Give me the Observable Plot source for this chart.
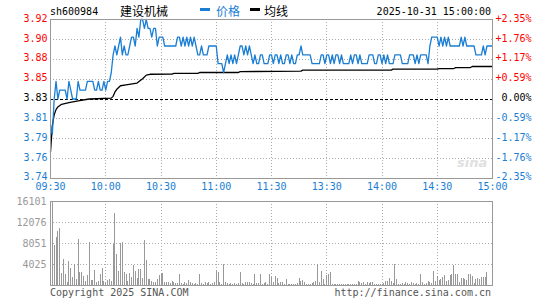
<!DOCTYPE html>
<html><head><meta charset="utf-8">
<script src="https://cdn.jsdelivr.net/npm/d3@7"></script>
<script src="https://cdn.jsdelivr.net/npm/@observablehq/plot@0.6"></script>
<style>
body{margin:0;background:#fff;}
#wrap{position:relative;width:545px;height:300px;overflow:hidden;background:#fff;}
#wrap svg{position:absolute;left:0;}
</style></head><body><div id="wrap"></div>
<script>
// ---- data ----
const stockCode = "sh600984";
const stockName = "建设机械";
const legendPrice = "价格";
const legendAvg = "均线";
const stamp = "2025-10-31 15:00:00";
const prevClose = 3.83;
const pctTicks = [-2.35, -1.7625, -1.175, -0.5875, 0, 0.5875, 1.175, 1.7625, 2.35];
const priceLabels = ["3.74","3.76","3.79","3.81","3.83","3.85","3.88","3.90","3.92"];
const pctLabels = ["-2.35%","-1.76%","-1.17%","-0.59%","0.00%","+0.59%","+1.17%","+1.76%","+2.35%"];
const timeTicks = [0, 30, 60, 90, 120, 150, 180, 210, 240];
const timeLabels = ["09:30","10:00","10:30","11:00","11:30","13:30","14:00","14:30","15:00"];
const volTicks = [4025, 8051, 12076, 16101];
const volMax = 16101;

const price = [
3.80,3.79,3.83,3.85,3.83,3.84,3.84,3.84,3.84,3.83,
3.85,3.84,3.83,3.83,3.83,3.85,3.84,3.84,3.84,3.84,
3.85,3.85,3.85,3.85,3.84,3.84,3.85,3.84,3.84,3.85,
3.84,3.85,3.85,3.86,3.88,3.89,3.88,3.89,3.90,3.88,
3.89,3.88,3.88,3.89,3.90,3.90,3.89,3.91,3.90,3.92,
3.92,3.91,3.92,3.91,3.91,3.90,3.91,3.91,3.89,3.90,
3.90,3.90,3.89,3.89,3.89,3.89,3.89,3.89,3.89,3.90,
3.90,3.89,3.90,3.89,3.90,3.89,3.90,3.89,3.90,3.89,
3.88,3.88,3.89,3.88,3.88,3.88,3.89,3.89,3.89,3.89,
3.89,3.87,3.87,3.87,3.86,3.87,3.88,3.87,3.88,3.87,
3.88,3.87,3.88,3.89,3.89,3.88,3.89,3.88,3.89,3.88,
3.87,3.88,3.87,3.87,3.88,3.88,3.87,3.87,3.87,3.88,
3.88,3.87,3.88,3.88,3.87,3.88,3.87,3.87,3.88,3.88,
3.87,3.88,3.87,3.87,3.88,3.88,3.89,3.88,3.88,3.88,
3.88,3.88,3.87,3.87,3.87,3.87,3.87,3.88,3.88,3.87,
3.88,3.88,3.87,3.88,3.87,3.88,3.88,3.87,3.88,3.87,
3.87,3.87,3.87,3.88,3.87,3.88,3.88,3.87,3.88,3.87,
3.87,3.87,3.87,3.88,3.88,3.88,3.87,3.87,3.88,3.88,
3.87,3.88,3.87,3.88,3.87,3.87,3.87,3.88,3.88,3.88,
3.88,3.87,3.87,3.87,3.87,3.88,3.88,3.88,3.87,3.88,
3.87,3.88,3.88,3.88,3.88,3.87,3.89,3.90,3.90,3.90,
3.90,3.89,3.90,3.89,3.90,3.89,3.90,3.89,3.89,3.89,
3.89,3.89,3.89,3.90,3.89,3.90,3.89,3.89,3.89,3.89,
3.89,3.88,3.88,3.88,3.88,3.89,3.88,3.89,3.89,3.89,3.89
];

// average line, read at its breakpoints (minute index, value)
const avgMinute = [0,1,2,3,4,6,10,15,21,33,34,35,36,38,41,47,50,52,54,66,67,80,81,102,103,136,137,185,186,210,211,219,220,228,229,240];
const avgValue  = [3.770,3.800,3.812,3.818,3.821,3.824,3.826,3.828,3.830,3.831,3.833,3.838,3.841,3.845,3.846,3.848,3.853,3.857,3.858,3.8582,3.859,3.859,3.860,3.860,3.861,3.8615,3.8627,3.8627,3.8638,3.8638,3.8645,3.8645,3.8656,3.8656,3.8668,3.8668];

const volume = [
7150,16101,7668,9267,10352,10990,2236,4984,2045,639,
4601,3200,1600,3962,1150,8818,2556,2556,1790,767,
1917,8179,959,959,2876,639,767,2045,3195,767,
639,959,1150,767,7796,13884,5878,2684,7988,8179,
2428,2045,767,2236,1500,3834,2684,1406,3067,3067,
1406,8562,4792,1150,1150,767,511,639,1150,1917,
2045,2236,639,511,639,320,767,511,400,320,
2173,320,256,639,400,959,511,320,256,384,
256,2173,320,256,511,384,639,256,320,511,
2684,2400,639,256,3962,511,320,256,384,256,
320,256,384,2428,320,256,639,639,639,384,
256,2045,320,384,2045,256,320,511,256,2173,
1598,639,1790,1278,320,511,511,256,1150,256,
192,256,192,256,320,1278,767,959,511,256,
192,256,320,511,767,3962,639,2684,1150,256,
1917,2045,2556,192,256,128,192,256,128,192,
256,128,192,256,192,128,256,767,511,320,
511,256,511,320,639,511,256,192,128,256,
192,320,767,767,1278,767,320,3962,1150,256,
192,320,256,511,384,256,511,320,256,384,
256,2173,639,256,384,767,511,320,2684,767,
1790,959,1150,1598,1917,767,959,1917,2045,3834,
2045,2045,639,1278,1406,1150,895,2173,2045,1790,
320,1150,1278,1150,1534,1534,1534,2428,0,0,0
];

// ---- styles ----
const blue = "#1a7ed4";
const red = "#ff0000";
const gridC = "#aaaaaa";
const mono = "DejaVu Sans Mono";
const cjk = "Noto Sans CJK SC";

const priceRows = price.map((p, i) => ({i, p}));
const avgRows = avgMinute.map((m, k) => ({i: m, p: avgValue[k]}));
const volRows = volume.map((v, i) => ({i, v}));
const yTicks = pctTicks.map((p, k) => ({y: prevClose * (1 + p / 100), label: priceLabels[k], pct: pctLabels[k], k}));
const yLo = prevClose * (1 - 0.0235), yHi = prevClose * (1 + 0.0235);
const innerTimes = timeTicks.slice(1, -1);

const labelColor = k => k < 4 ? blue : (k === 4 ? "#000" : red);
const groups = [[0], [1,2,3], [4], [5,6,7,8]];
const groupDy = g => g[0] === 0 ? -2 : -1;

const pricePlot = Plot.plot({
  width: 545, height: 195,
  marginTop: 19, marginBottom: 17, marginLeft: 50, marginRight: 53,
  x: {domain: [0, 240], axis: null},
  y: {domain: [yLo, yHi], axis: null},
  style: {fontFamily: mono, fontSize: "10px", background: "transparent", overflow: "visible"},
  marks: [
    Plot.ruleY(yTicks.filter(d => d.k !== 4 && d.k !== 0 && d.k !== 8), {y: "y", stroke: gridC, strokeDasharray: "1,2", shapeRendering: "crispEdges"}),
    Plot.ruleX(innerTimes, {stroke: gridC, strokeDasharray: "1,2", shapeRendering: "crispEdges"}),
    Plot.ruleY([prevClose], {stroke: "#000", strokeDasharray: "3,2", shapeRendering: "crispEdges"}),
    Plot.line(avgRows, {x: "i", y: "p", stroke: "#000", strokeWidth: 1.3}),
    Plot.line(priceRows, {x: "i", y: "p", stroke: blue, strokeWidth: 1.3}),
    Plot.frame({stroke: "#999", shapeRendering: "crispEdges"}),
    ...groups.map(group => Plot.text(yTicks.filter(d => group.includes(d.k)), {
      y: "y", text: "label", frameAnchor: "left", dx: -3, dy: groupDy(group), textAnchor: "end",
      fill: labelColor(group[0]), fontFamily: mono, fontSize: 10})),
    ...groups.map(group => Plot.text(yTicks.filter(d => group.includes(d.k)), {
      y: "y", text: "pct", frameAnchor: "right", dx: 39, dy: groupDy(group), textAnchor: "end",
      fill: labelColor(group[0]), fontFamily: mono, fontSize: 10})),
    Plot.text(timeTicks, {x: d => d, text: (d, k) => timeLabels[k], frameAnchor: "bottom", dy: 11,
      fill: blue, fontFamily: mono, fontSize: 10})
  ]
});
pricePlot.style.top = "0px";

const volPlot = Plot.plot({
  width: 545, height: 105,
  marginTop: 6, marginBottom: 15, marginLeft: 50, marginRight: 53,
  x: {domain: [0, 240], axis: null},
  y: {domain: [0, volMax], axis: null},
  style: {fontFamily: mono, fontSize: "10px", background: "transparent", overflow: "visible"},
  marks: [
    Plot.ruleY(volTicks.slice(0, -1), {stroke: gridC, strokeDasharray: "1,2", shapeRendering: "crispEdges"}),
    Plot.ruleX(innerTimes, {stroke: gridC, strokeDasharray: "1,2", shapeRendering: "crispEdges"}),
    Plot.ruleX(volRows.filter(d => d.v > 0), {x: "i", y1: 0, y2: "v", stroke: "#999", strokeWidth: 1, shapeRendering: "crispEdges"}),
    Plot.frame({stroke: "#999", shapeRendering: "crispEdges"}),
    Plot.text(volTicks, {y: d => d, text: d => String(d), frameAnchor: "left", dx: -4, textAnchor: "end",
      fill: "#999", fontFamily: mono, fontSize: 10})
  ]
});
volPlot.style.top = "195px";

const wrap = document.getElementById("wrap");
wrap.appendChild(pricePlot);
wrap.appendChild(volPlot);

// header, legend, footer and watermark as real text
const svg = d3.select(wrap).append("svg")
  .attr("width", 545).attr("height", 300).style("top", "0px").style("pointer-events", "none");
svg.append("text").attr("x", 457).attr("y", 167).attr("font-family", "DejaVu Sans").attr("font-style", "italic")
  .attr("font-weight", "bold").attr("font-size", 13).attr("fill", "#e0e0e0").text("sina");
svg.append("text").attr("x", 50).attr("y", 15).attr("font-family", mono).attr("font-size", 10).attr("fill", "#000").text(stockCode);
svg.append("text").attr("x", 120).attr("y", 15.5).attr("font-family", cjk).attr("font-size", 12).attr("fill", "#000").text(stockName);
svg.append("rect").attr("x", 200).attr("y", 8).attr("width", 10).attr("height", 3).attr("fill", blue);
svg.append("text").attr("x", 216).attr("y", 15.5).attr("font-family", cjk).attr("font-size", 12).attr("fill", blue).text(legendPrice);
svg.append("rect").attr("x", 250).attr("y", 8).attr("width", 10).attr("height", 3).attr("fill", "#000");
svg.append("text").attr("x", 264).attr("y", 15.5).attr("font-family", cjk).attr("font-size", 12).attr("fill", "#000").text(legendAvg);
svg.append("text").attr("x", 491).attr("y", 15).attr("text-anchor", "end").attr("font-family", mono).attr("font-size", 10).attr("fill", "#000").text(stamp);
svg.append("text").attr("x", 50).attr("y", 296).attr("font-family", mono).attr("font-size", 10).attr("fill", "#555").text("Copyright 2025 SINA.COM");
svg.append("text").attr("x", 491).attr("y", 296).attr("text-anchor", "end").attr("font-family", mono).attr("font-size", 10).attr("fill", "#555").text("http://finance.sina.com.cn");
</script></body></html>
